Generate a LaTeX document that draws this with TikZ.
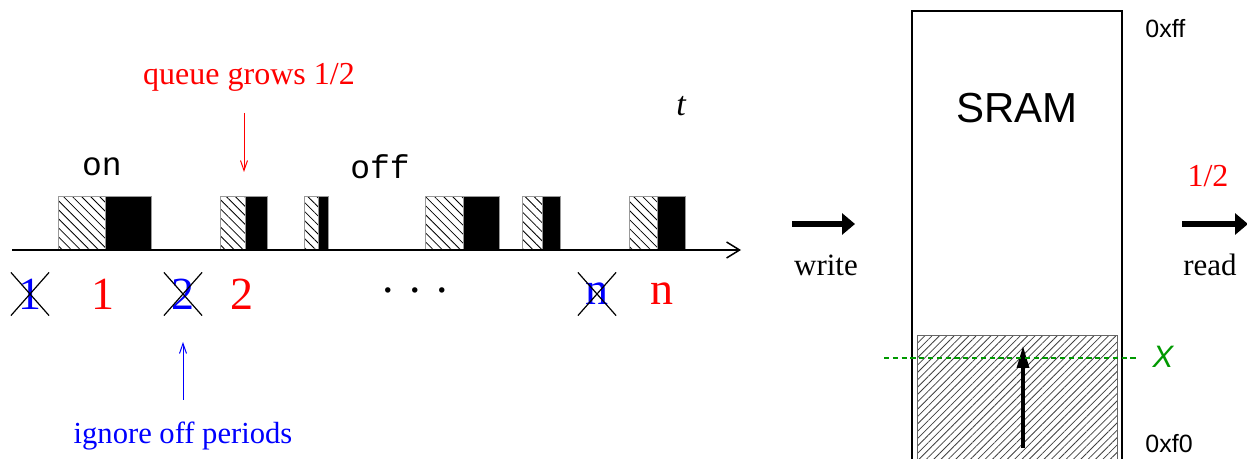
\documentclass[tikz,border=0pt]{standalone}
\usepackage{fontspec}
\setmainfont{Liberation Serif}
\setsansfont{Liberation Sans}
\setmonofont{Liberation Mono}
\usetikzlibrary{arrows.meta,patterns.meta,shapes.misc}
\definecolor{dgreen}{rgb}{0,0.6,0}
\tikzset{
  hatchbox/.style={draw=gray!80, line width=0.5pt, pattern={Lines[angle=-45,distance=3.2pt,line width=0.4pt]}},
  blackbox/.style={draw=gray!80, line width=0.5pt, fill=black},
  sramhatch/.style={draw=gray!80!black, line width=0.5pt, pattern={Lines[angle=45,distance=2.6pt,line width=0.4pt]}, pattern color=black!75},
  digit/.style={font=\fontsize{23}{26}\selectfont, inner sep=0pt},
  crossed/.style={digit, text=blue, cross out, draw=black, line width=0.6pt, minimum width=18.5pt, minimum height=21pt},
  label/.style={font=\fontsize{16}{18}\selectfont, inner sep=0pt},
  thinarrow/.style={line width=0.5pt, -{Straight Barb[length=5pt,width=3.5pt]}},
  fatarrow/.style={line width=2.6pt, -{Triangle[length=6.5pt,width=10.5pt]}},
}
\begin{document}
\begin{tikzpicture}[x=0.5pt,y=-0.5pt]
\useasboundingbox (0,0) rectangle (1247,459);
\clip (0,0) rectangle (1247,459);

% time axis blocks
\path[hatchbox] (58,197) rectangle (105,250);
\path[blackbox] (105,197) rectangle (151,250);
\path[hatchbox] (220,197) rectangle (245,250);
\path[blackbox] (245,197) rectangle (267,250);
\path[hatchbox] (304,197) rectangle (318,250);
\path[blackbox] (318,197) rectangle (328,250);
\path[hatchbox] (425,197) rectangle (463,250);
\path[blackbox] (463,197) rectangle (499,250);
\path[hatchbox] (522,197) rectangle (542,250);
\path[blackbox] (542,197) rectangle (560,250);
\path[hatchbox] (629,197) rectangle (657,250);
\path[blackbox] (657,197) rectangle (685,250);

% axis
\coordinate (ax0) at (12,250);
\coordinate (ax1) at (741,250);
\draw[line width=0.75pt, -{Straight Barb[length=6.5pt,width=8pt]}] (ax0) -- (ax1);

\node[font=\fontsize{17}{19}\selectfont\itshape] (t) at (681,106) {t};
\node[font=\fontsize{16.5}{18}\selectfont\ttfamily] (on) at (102,167) {on};
\node[font=\fontsize{16.5}{18}\selectfont\ttfamily] (off) at (380,167) {off};

% labels under axis
\node[crossed] (x1) at (30,294) {1};
\node[digit, text=red] (r1) at (103,294) {1};
\node[crossed] (x2) at (183,294) {2};
\node[digit, text=red] (r2) at (242,294) {2};
\node[digit] (dots) at (415,290) {.\hspace{7.7pt}.\hspace{7.7pt}.};
\node[crossed] (xn) at (597,294) {n};
\node[digit, text=red] (rn) at (662,294) {n};

% queue grows
\node[label, text=red] (queue) at (249,77) {queue grows 1/2};
\coordinate (qa) at (244,113);
\coordinate (qb) at (244,172);
\draw[thinarrow, red] (qa) -- (qb);

% ignore off periods
\node[label, text=blue, font=\fontsize{15.3}{17}\selectfont] (ignore) at (183,436) {ignore off periods};
\coordinate (ia) at (183,400);
\coordinate (ib) at (183,342);
\draw[thinarrow, blue] (ia) -- (ib);

% write arrow
\coordinate (wa) at (792,224);
\coordinate (wb) at (855,224);
\draw[fatarrow] (wa) -- (wb);
\node[font=\fontsize{15.5}{17}\selectfont] (write) at (826,265) {write};

% SRAM
\draw[line width=0.6pt] (912,470) -- (912,11) -- (1122,11) -- (1122,470);
\node[font=\fontsize{21}{24}\selectfont\sffamily] (sram) at (1017,108) {SRAM};
\node[font=\fontsize{12.5}{14}\selectfont\sffamily, anchor=base west, inner sep=0pt] (ff) at (1145,38) {0xff};
\node[font=\fontsize{12.5}{14}\selectfont\sffamily, anchor=base west, inner sep=0pt] (f0) at (1145,452) {0xf0};
\path[sramhatch] (917,470) -- (917,336) -- (1117,336) -- (1117,470);
\coordinate (ua) at (1023,448);
\coordinate (ub) at (1023,346);
\draw[line width=1.6pt, -{Triangle[length=11pt,width=6pt]}] (ua) -- (ub);
\coordinate (ga) at (884,358);
\coordinate (gb) at (1139,358);
\draw[dgreen, line width=0.6pt, dash pattern=on 2.6pt off 1.8pt] (ga) -- (gb);
\node[font=\fontsize{15.5}{17}\selectfont\sffamily\itshape, text=dgreen] (X) at (1163,357) {X};

% read arrow
\node[label, text=red] (half) at (1208,176) {1/2};
\coordinate (ra) at (1182,224);
\coordinate (rb) at (1248,224);
\draw[fatarrow] (ra) -- (rb);
\node[font=\fontsize{15.5}{17}\selectfont] (read) at (1210,265) {read};
\end{tikzpicture}
\end{document}
